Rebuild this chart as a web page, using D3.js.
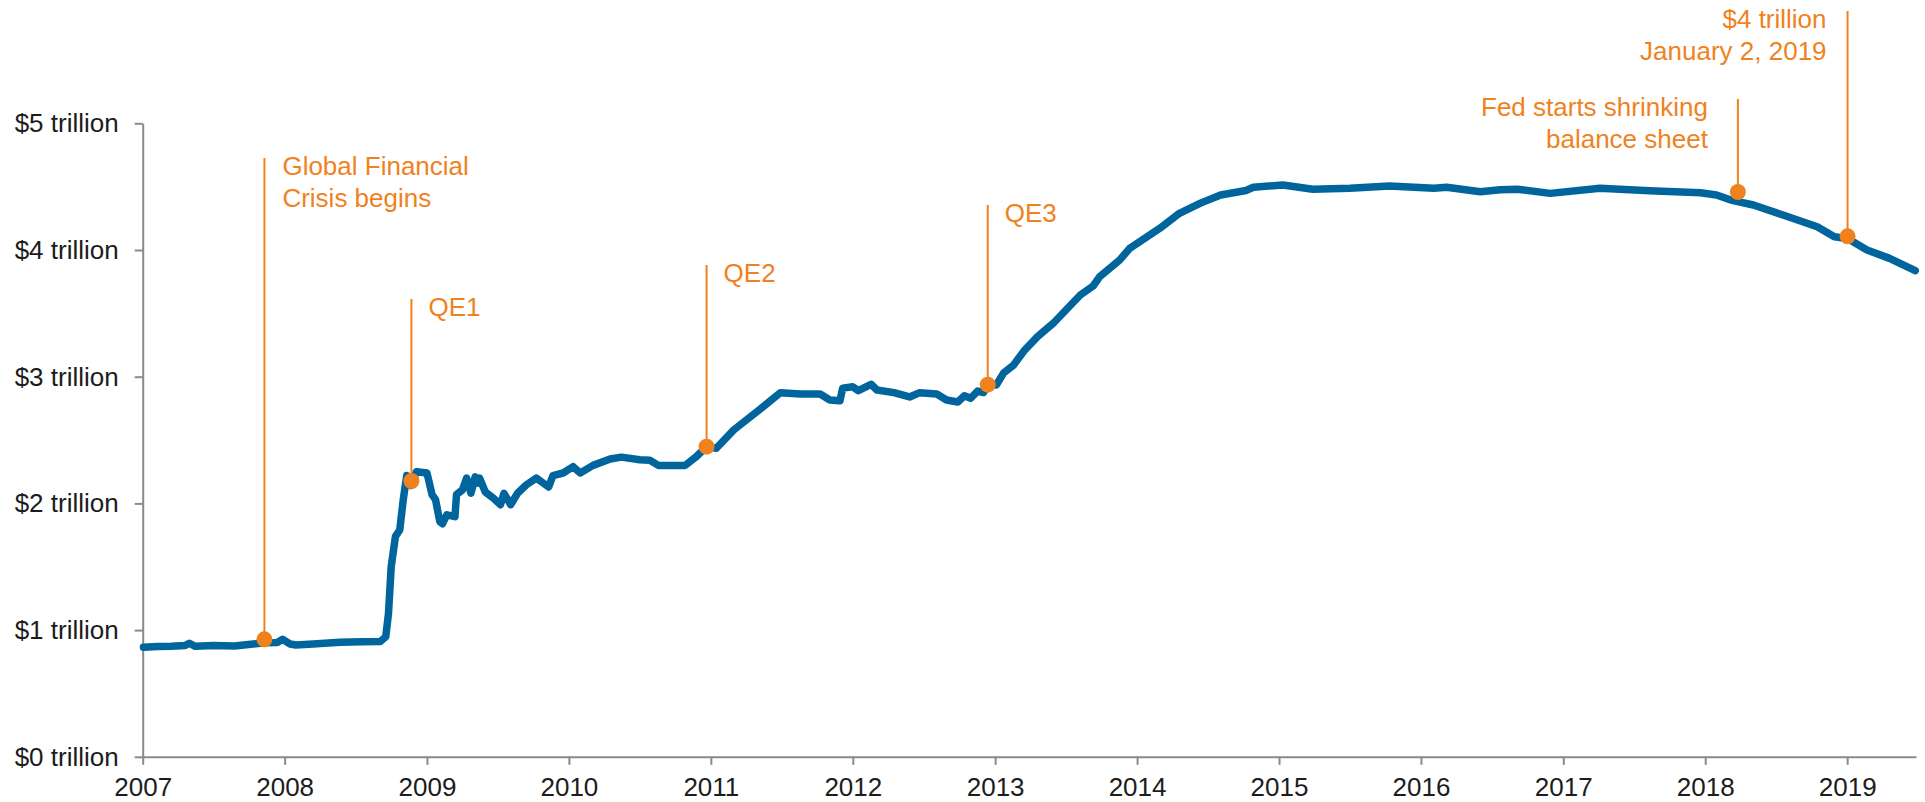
<!DOCTYPE html>
<html>
<head>
<meta charset="utf-8">
<script src="https://cdn.jsdelivr.net/npm/d3@7"></script>
<style>
  html, body { margin: 0; padding: 0; background: #ffffff; }
  svg { display: block; font-family: "Liberation Sans", Arial, sans-serif; }
</style>
</head>
<body>
<svg id="chart" width="1925" height="802"></svg>
<script>
// ---- Data ----
const dates = [
  "2007-01-03","2007-02-08","2007-03-15","2007-04-20","2007-05-01","2007-05-16","2007-07-02","2007-08-25",
  "2007-10-12","2007-11-10","2007-12-13","2007-12-27","2008-01-15","2008-01-30","2008-03-14","2008-05-22",
  "2008-07-19","2008-09-03","2008-09-17","2008-09-24","2008-10-01","2008-10-12","2008-10-23","2008-11-01",
  "2008-11-10","2008-11-21","2008-12-05","2009-01-01","2009-01-14","2009-01-23","2009-02-03","2009-02-10",
  "2009-02-21","2009-03-14","2009-03-18","2009-04-02","2009-04-13","2009-04-24","2009-05-05","2009-05-12",
  "2009-05-16","2009-05-31","2009-06-21","2009-07-09","2009-07-18","2009-08-04","2009-08-22","2009-09-13",
  "2009-10-09","2009-11-10","2009-11-21","2009-12-17","2010-01-12","2010-01-30","2010-03-04","2010-04-17",
  "2010-05-16","2010-07-02","2010-07-28","2010-08-19","2010-09-21","2010-10-27","2010-11-25","2010-12-21",
  "2011-01-15","2011-03-01","2011-04-28","2011-06-29","2011-08-19","2011-10-09","2011-11-03","2011-11-29",
  "2011-12-06","2012-01-01","2012-01-15","2012-02-17","2012-03-03","2012-04-16","2012-05-26","2012-06-21",
  "2012-08-04","2012-08-29","2012-09-27","2012-10-14","2012-10-30","2012-11-17","2012-12-02","2012-12-13",
  "2013-01-04","2013-01-23","2013-02-17","2013-03-18","2013-04-20","2013-05-30","2013-08-08","2013-09-10",
  "2013-09-27","2013-11-17","2013-12-13","2014-01-08","2014-02-28","2014-04-20","2014-06-13","2014-08-04",
  "2014-10-08","2014-10-27","2015-01-11","2015-03-29","2015-07-02","2015-10-12","2016-02-03","2016-03-07",
  "2016-06-02","2016-07-23","2016-09-05","2016-11-28","2017-04-05","2017-08-11","2017-12-20","2018-01-30",
  "2018-03-08","2018-05-05","2018-07-20","2018-10-16","2018-11-29","2019-01-02","2019-02-21","2019-04-20",
  "2019-06-25"
];
const values = [
  0.864,0.870,0.872,0.878,0.896,0.872,0.878,0.875,
  0.890,0.900,0.902,0.927,0.890,0.882,0.890,0.905,
  0.908,0.910,0.948,1.13,1.50,1.74,1.79,2.03,
  2.22,2.14,2.25,2.24,2.07,2.03,1.856,1.84,
  1.91,1.895,2.07,2.106,2.20,2.08,2.21,2.16,
  2.20,2.09,2.04,1.99,2.08,1.99,2.08,2.145,
  2.20,2.13,2.22,2.24,2.29,2.24,2.30,2.35,
  2.365,2.345,2.34,2.30,2.30,2.30,2.37,2.448,
  2.435,2.58,2.72,2.874,2.863,2.863,2.816,2.81,
  2.91,2.92,2.89,2.94,2.895,2.874,2.84,2.874,
  2.863,2.816,2.80,2.85,2.83,2.887,2.875,2.935,
  2.935,3.03,3.09,3.21,3.316,3.42,3.645,3.716,
  3.79,3.92,4.013,4.066,4.17,4.29,4.37,4.434,
  4.47,4.495,4.513,4.48,4.487,4.505,4.487,4.495,
  4.46,4.475,4.48,4.447,4.487,4.468,4.452,4.434,
  4.394,4.355,4.276,4.184,4.105,4.09,4.00,3.934,
  3.837
];
const yTicks = [0, 1, 2, 3, 4, 5];
const yTickLabels = ["$0 trillion","$1 trillion","$2 trillion","$3 trillion","$4 trillion","$5 trillion"];

const eventDates  = ["2007-11-10","2008-11-22","2010-12-21","2012-12-13","2018-03-26","2019-01-02"];
const eventValues = [0.927, 2.177, 2.448, 2.937, 4.458, 4.108];
const eventLabels = [
  ["Global Financial", "Crisis begins"],
  ["QE1"],
  ["QE2"],
  ["QE3"],
  ["Fed starts shrinking", "balance sheet"],
  ["$4 trillion", "January 2, 2019"]
];

// ---- Layout ----
const plotLeft = 142.7, plotRight = 1916, plotTop = 123.3, plotBottom = 756.8;
const blue = "#00659c", orange = "#f0821e", axisGray = "#8a8a8a", textColor = "#1c1c1c";

const parse = d3.timeParse("%Y-%m-%d");
const series = dates.map((d, i) => ({ date: parse(d), value: values[i] }));

const x = d3.scaleTime()
  .domain([new Date(2007, 0, 1), new Date(2019, 5, 27)])
  .range([plotLeft, plotRight]);
const y = d3.scaleLinear().domain([0, 5]).range([plotBottom, plotTop]);

const svg = d3.select("#chart");

// Y axis
const yAxis = svg.append("g")
  .attr("transform", `translate(${plotLeft},0)`)
  .call(d3.axisLeft(y).tickValues(yTicks)
    .tickFormat((d, i) => yTickLabels[i])
    .tickSize(8).tickPadding(16).tickSizeOuter(0));
// X axis
const xAxis = svg.append("g")
  .attr("transform", `translate(0,${plotBottom})`)
  .call(d3.axisBottom(x).ticks(d3.timeYear.every(1))
    .tickFormat(d3.timeFormat("%Y"))
    .tickSize(8).tickPadding(13).tickSizeOuter(0));

[yAxis, xAxis].forEach(g => {
  g.select(".domain").attr("stroke", axisGray).attr("stroke-width", 2);
  g.selectAll(".tick line").attr("stroke", axisGray).attr("stroke-width", 2);
  g.selectAll(".tick text")
    .attr("fill", textColor)
    .style("font-size", "26px")
    .style("font-family", "'Liberation Sans', Arial, sans-serif");
});

// Line
svg.append("path")
  .datum(series)
  .attr("fill", "none")
  .attr("stroke", blue)
  .attr("stroke-width", 7.5)
  .attr("stroke-linejoin", "round")
  .attr("stroke-linecap", "round")
  .attr("d", d3.line().x(d => x(d.date)).y(d => y(d.value)));

// Annotation layout: leader top (px), text anchor side and offsets
const annLayout = [
  { lineTop: 158, anchor: "start", dx: 18 },
  { lineTop: 299, anchor: "start", dx: 17 },
  { lineTop: 265, anchor: "start", dx: 17 },
  { lineTop: 205, anchor: "start", dx: 17 },
  { lineTop: 99,  anchor: "end",   dx: -30 },
  { lineTop: 11,  anchor: "end",   dx: -21 }
];

const ann = svg.append("g");
eventDates.forEach((ds, i) => {
  const cx = x(parse(ds)), cy = y(eventValues[i]);
  const L = annLayout[i];
  ann.append("line")
    .attr("x1", cx).attr("x2", cx)
    .attr("y1", L.lineTop).attr("y2", cy)
    .attr("stroke", orange).attr("stroke-width", 2);
  ann.append("circle")
    .attr("cx", cx).attr("cy", cy).attr("r", 8)
    .attr("fill", orange);
  const t = ann.append("text")
    .attr("x", cx + L.dx)
    .attr("y", L.lineTop + 16.5)
    .attr("text-anchor", L.anchor)
    .attr("fill", orange)
    .style("font-size", "26px");
  eventLabels[i].forEach((line, j) => {
    t.append("tspan")
      .attr("x", cx + L.dx)
      .attr("dy", j === 0 ? 0 : 32)
      .text(line);
  });
});
</script>
</body>
</html>
